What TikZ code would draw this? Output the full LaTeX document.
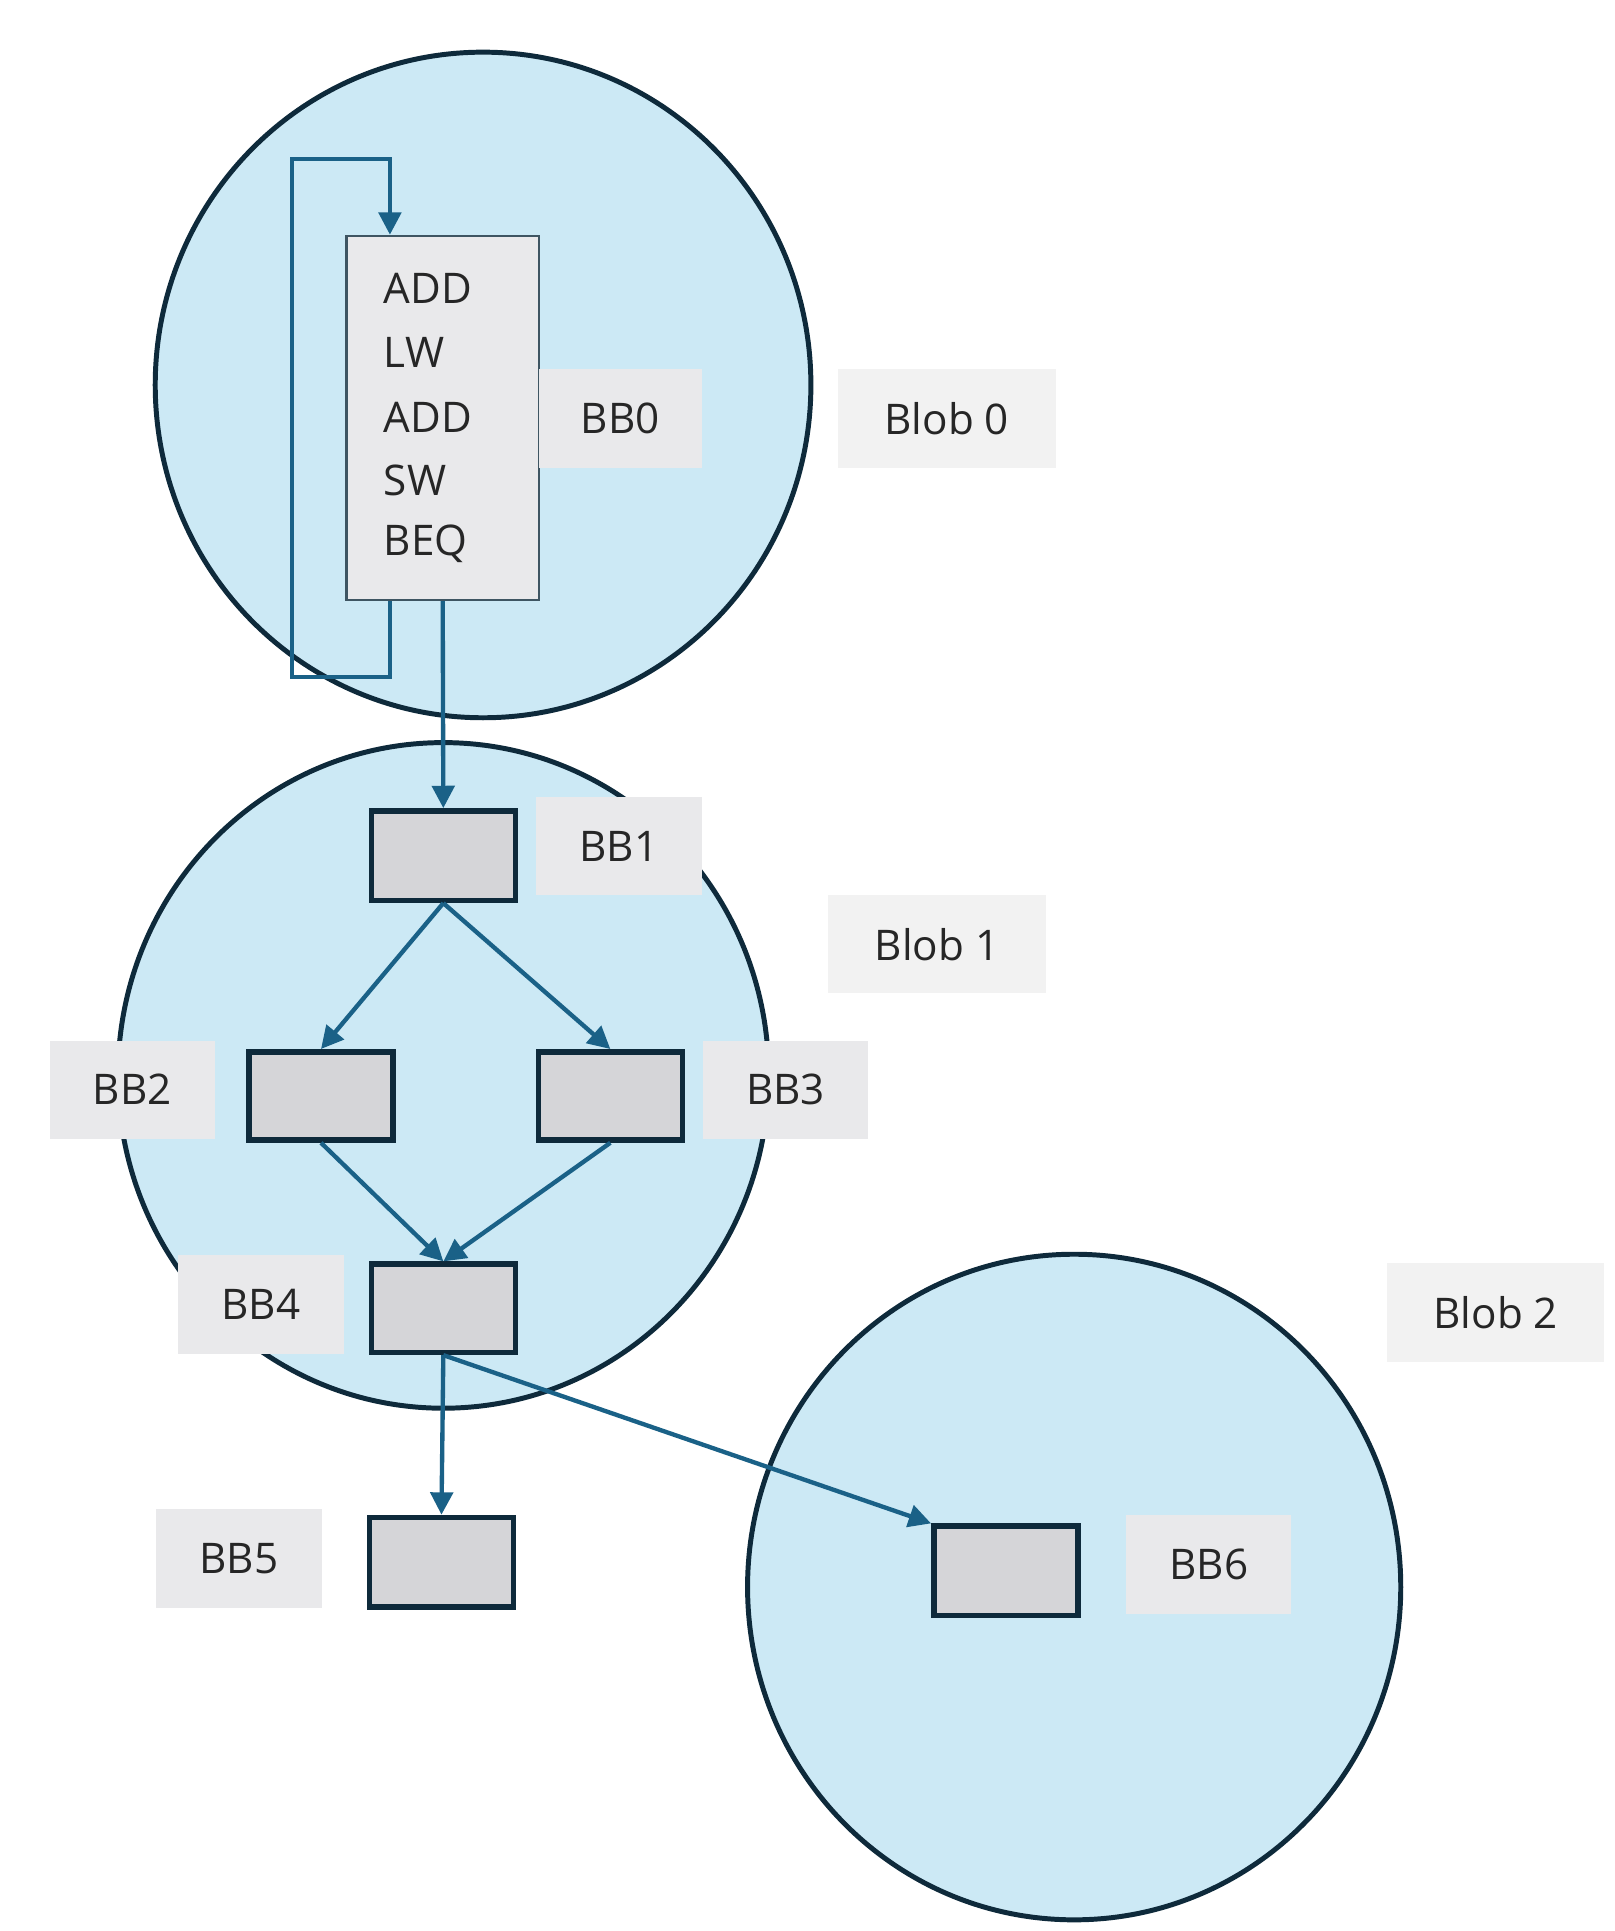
\documentclass[tikz,border=0pt]{standalone}
\usepackage{fontspec}
\setmainfont{Open Sans}
\usetikzlibrary{arrows.meta}
\definecolor{blobfill}{HTML}{CCE9F5}
\definecolor{dark}{HTML}{0E2A3B}
\definecolor{arr}{HTML}{1A6187}
\definecolor{boxg}{HTML}{D5D5D8}
\definecolor{lab}{HTML}{E9E9EB}
\definecolor{lab2}{HTML}{F2F2F2}
\begin{document}
\begin{tikzpicture}[x=1pt,y=-1pt,
  blob/.style={draw=dark,line width=4pt,fill=blobfill},
  bb/.style={draw=dark,line width=4.5pt,fill=boxg},
  lbl/.style={fill=lab,font=\fontsize{34}{40}\selectfont,text=black!85},
  blbl/.style={fill=lab2,font=\fontsize{34}{40}\selectfont,text=black!85},
  ar/.style={draw=arr,line width=3.5pt,-{Triangle[length=18pt,width=18pt]}},
  ln/.style={draw=arr,line width=3.5pt}]
\useasboundingbox (0,0) rectangle (1300,1555);
\draw[blob] (389,310) ellipse [x radius=264,y radius=268];
\draw[blob] (357,866) ellipse [x radius=262,y radius=268];
\draw[blob] (865,1278) ellipse [x radius=263,y radius=268];
% BB0
\node[draw=dark!80,line width=2pt,fill=lab,minimum width=155pt,minimum height=293pt,inner sep=0pt] (bb0) at (356.5,336.5) {};
\foreach \t/\y in {ADD/232,LW/284,ADD/336,SW/387,BEQ/438}
  \node[anchor=west,inner sep=0pt,font=\fontsize{34}{40}\selectfont,text=black!85] at (309,\y) {\t};
\node[lbl,minimum width=131pt,minimum height=80pt] (l0) at (499.5,337) {BB0};
\node[blbl,minimum width=175pt,minimum height=80pt] (b0) at (762.5,337) {Blob 0};
\node[blbl,minimum width=175pt,minimum height=79pt] (b1) at (754.5,760.5) {Blob 1};
\node[blbl,minimum width=175pt,minimum height=80pt] (b2) at (1204.5,1057) {Blob 2};
% boxes
\node[bb,minimum width=116pt,minimum height=72pt] (bb1) at (357,689) {};
\node[bb,minimum width=116pt,minimum height=71pt] (bb2) at (258.5,882.5) {};
\node[bb,minimum width=116pt,minimum height=71pt] (bb3) at (491.5,882.5) {};
\node[bb,minimum width=116pt,minimum height=71pt] (bb4) at (357,1053.5) {};
\node[bb,minimum width=116pt,minimum height=72pt] (bb5) at (355.5,1258) {};
\node[bb,minimum width=116pt,minimum height=72pt] (bb6) at (810,1265) {};
\node[lbl,minimum width=133pt,minimum height=79pt] (l1) at (498.5,681.5) {BB1};
\node[lbl,minimum width=133pt,minimum height=79pt] (l2) at (106.5,877.5) {BB2};
\node[lbl,minimum width=133pt,minimum height=79pt] (l3) at (632.5,877.5) {BB3};
\node[lbl,minimum width=134pt,minimum height=79pt] (l4) at (210,1050.5) {BB4};
\node[lbl,minimum width=133pt,minimum height=80pt] (l5) at (192.5,1255) {BB5};
\node[lbl,minimum width=133pt,minimum height=80pt] (l6) at (973.5,1260) {BB6};
% connectors
\coordinate (c1) at (314,545); \coordinate (c2) at (235,545);
\coordinate (c3) at (235,128); \coordinate (c4) at (314,128);
\draw[ar] (bb0.south -| c1) -- (c1) -- (c2) -- (c3) -- (c4) -- (bb0.north -| c4);
\draw[ar] (bb0.south) -- (bb1.north);
\draw[ar] (bb1.south) -- (bb2.north);
\draw[ar] (bb1.south) -- (bb3.north);
\draw[ar] (bb2.south) -- (bb4.north);
\draw[ar] (bb3.south) -- (bb4.north);
\draw[ar] (bb4.south) -- (bb5.north);
\draw[ar] (bb4.south) -- (bb6.north west);
\end{tikzpicture}
\end{document}
